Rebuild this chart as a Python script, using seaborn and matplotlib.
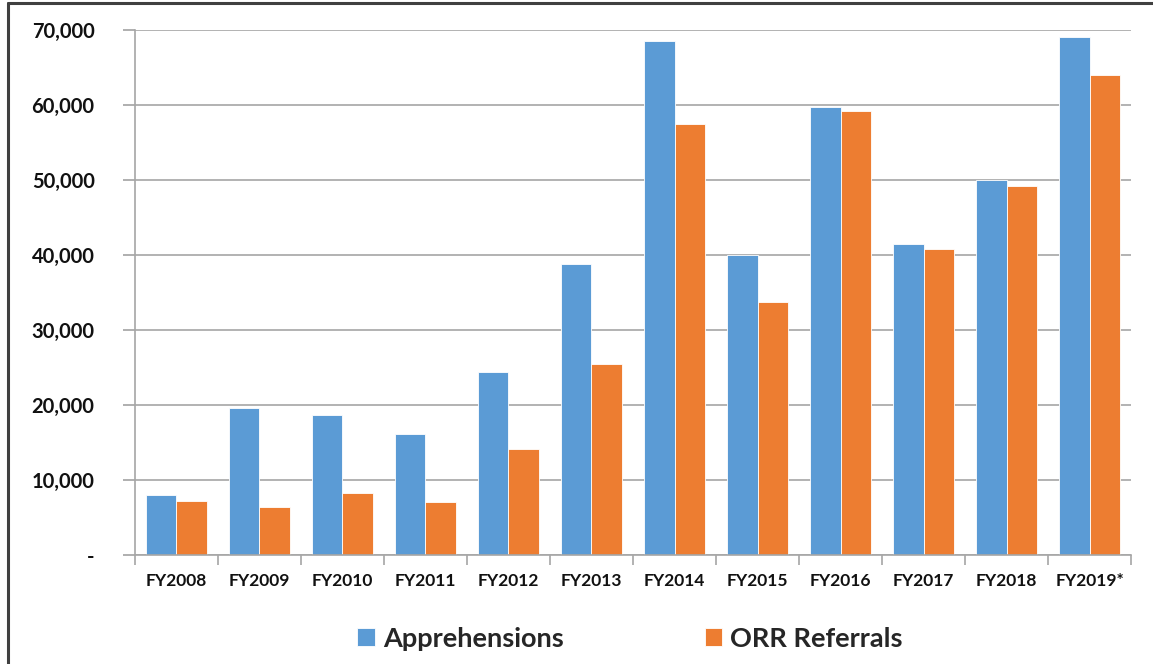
import matplotlib
matplotlib.use("Agg")
import matplotlib.pyplot as plt
import seaborn as sns
import pandas as pd
from matplotlib.lines import Line2D
from matplotlib.ticker import FuncFormatter, FixedLocator

years = ["FY2008", "FY2009", "FY2010", "FY2011", "FY2012", "FY2013",
         "FY2014", "FY2015", "FY2016", "FY2017", "FY2018", "FY2019*"]
apprehensions = [8000, 19600, 18700, 16100, 24400, 38800,
                 68500, 40000, 59700, 41500, 50000, 69100]
orr_referrals = [7200, 6400, 8300, 7100, 14100, 25500,
                 57500, 33700, 59200, 40800, 49200, 64000]
series_names = ["Apprehensions", "ORR Referrals"]
colors = ["#5B9BD5", "#ED7D31"]

df = pd.DataFrame({
    "year": years * 2,
    "value": apprehensions + orr_referrals,
    "series": [series_names[0]] * len(years) + [series_names[1]] * len(years),
})

sns.set_theme(style="white")
plt.rcParams["font.family"] = ["Lato", "DejaVu Sans"]

fig = plt.figure(figsize=(11.53, 6.64), dpi=100)
ax = fig.add_axes([0.117, 0.164, 0.864, 0.791])

sns.barplot(data=df, x="year", y="value", hue="series", palette=colors,
            width=0.73, gap=0, ax=ax, edgecolor="white", linewidth=0.6,
            saturation=1)

ax.set_ylim(0, 70000)
ax.set_xlim(-0.5, len(years) - 0.5)
ax.set_yticks(range(0, 70001, 10000))
ax.yaxis.set_major_formatter(FuncFormatter(lambda v, p: "-" if v == 0 else f"{int(v):,}"))
ax.grid(axis="y", color="#A6A6A6", linewidth=1.2)
ax.set_axisbelow(True)
for s in ["top", "right"]:
    ax.spines[s].set_visible(False)
ax.spines["left"].set_color("#A6A6A6")
ax.spines["bottom"].set_color("#A6A6A6")
ax.spines["left"].set_linewidth(1.2)
ax.spines["bottom"].set_linewidth(1.2)

ax.tick_params(axis="y", which="major", left=True, length=9, color="#A6A6A6",
               labelsize=14.5, pad=20, labelcolor="#111111")
for t in ax.get_yticklabels():
    t.set_fontweight("bold")
ax.tick_params(axis="x", which="major", length=0, labelsize=12.5, pad=13, labelcolor="#111111")
for t in ax.get_xticklabels():
    t.set_fontweight("bold")
ax.xaxis.set_minor_locator(FixedLocator([i - 0.5 for i in range(len(years) + 1)]))
ax.tick_params(axis="x", which="minor", bottom=True, length=7, color="#A6A6A6", width=1.2)

ax.set_xlabel("")
ax.set_ylabel("")

ax.legend(loc="upper center", bbox_to_anchor=(0.497, -0.09), ncol=2, frameon=False,
          handlelength=0.65, handleheight=0.65, columnspacing=5.2, handletextpad=0.3,
          prop={"size": 19.5, "weight": "bold"})

fig.add_artist(Line2D([8 / 1153, 8 / 1153], [0, 1 - 3 / 664], transform=fig.transFigure,
                      color="#404040", linewidth=2.2))
fig.add_artist(Line2D([8 / 1153, 1], [1 - 3 / 664, 1 - 3 / 664], transform=fig.transFigure,
                      color="#404040", linewidth=2.2))

fig.savefig("out.png", dpi=100)
